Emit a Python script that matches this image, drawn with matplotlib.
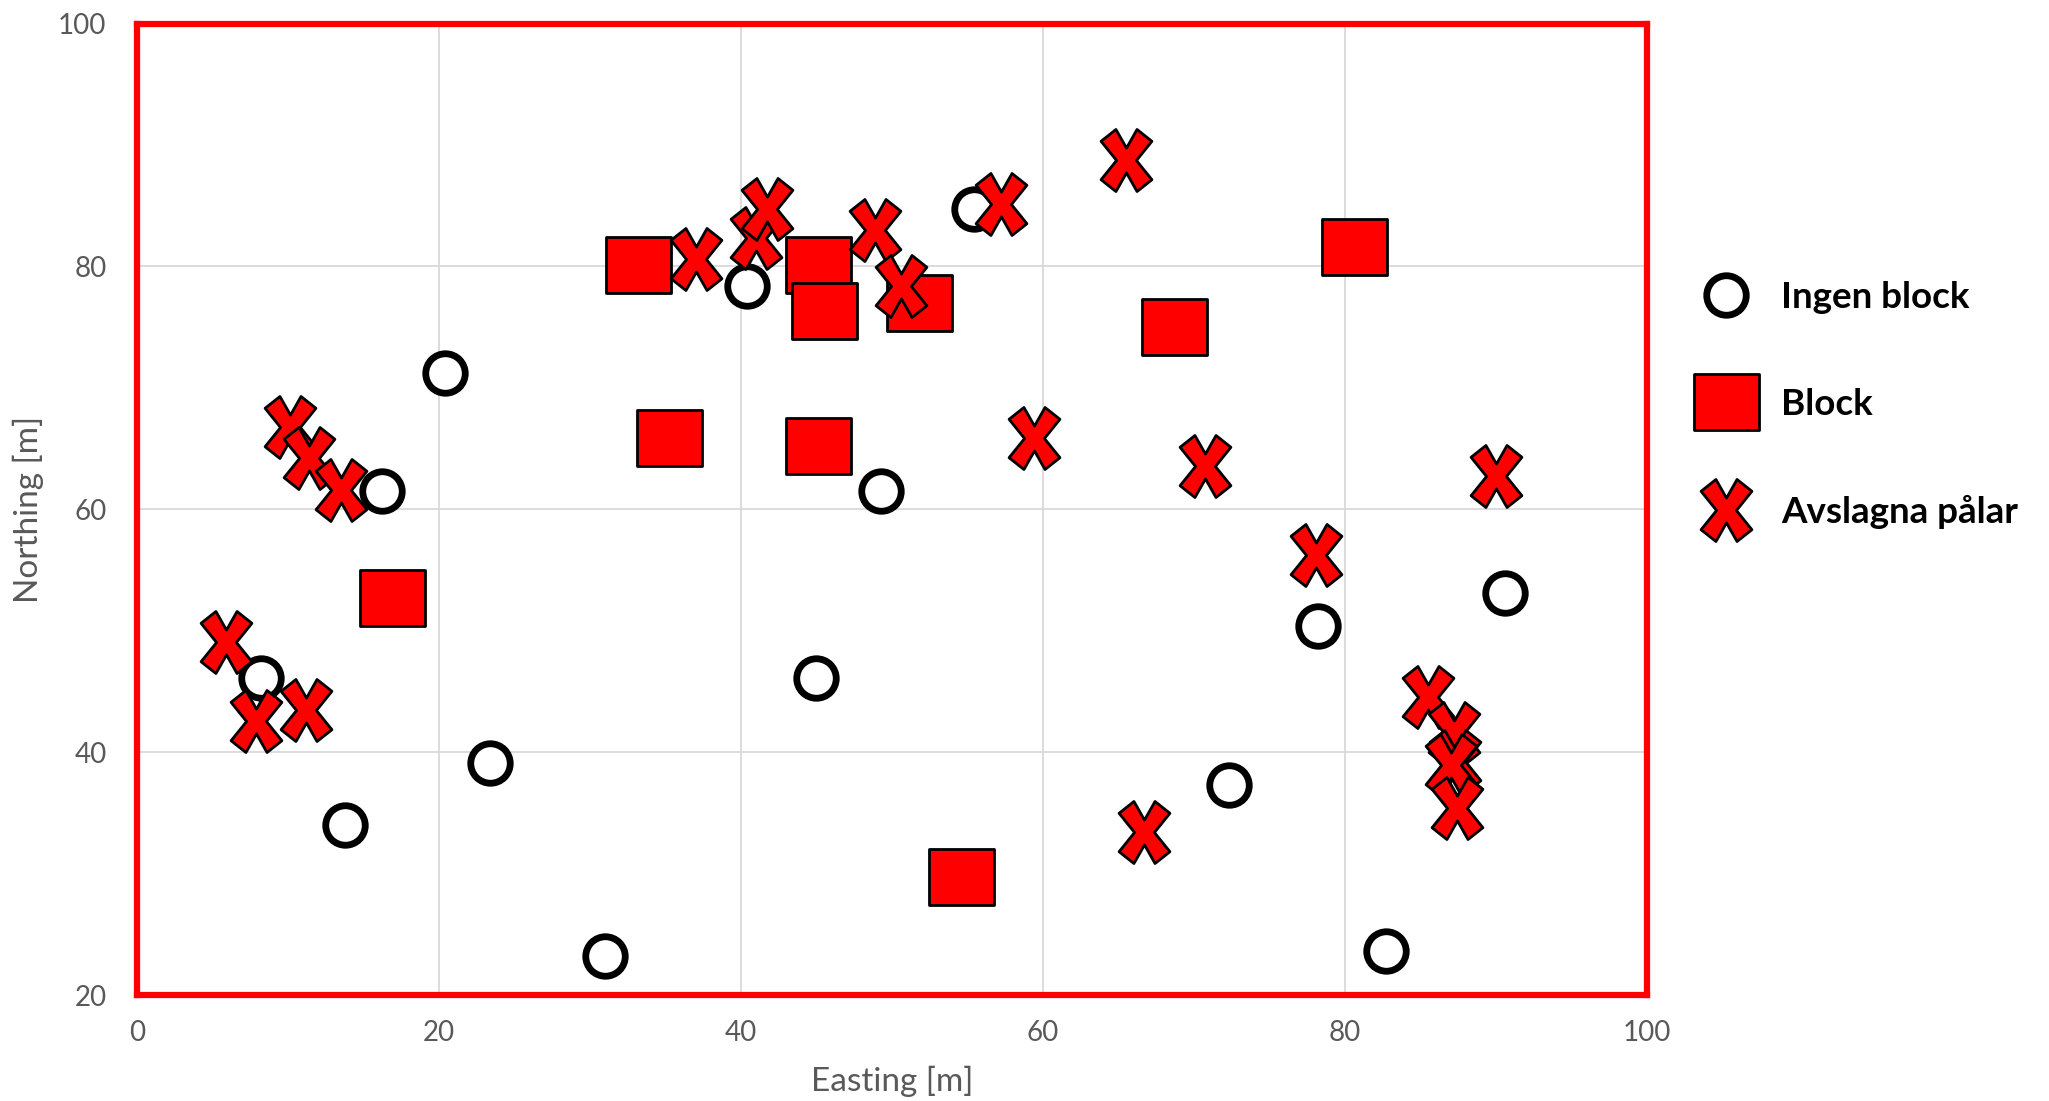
import matplotlib
matplotlib.use("Agg")
import matplotlib.pyplot as plt
from matplotlib.path import Path
from matplotlib.lines import Line2D

plt.rcParams['font.family'] = ['Lato', 'DejaVu Sans']

# ---- data ----
ingen_x = [20.4, 16.2, 8.2, 23.4, 13.8, 31.0, 40.4, 55.4, 49.3, 45.0, 72.3, 78.2, 90.6, 82.7]
ingen_y = [71.2, 61.5, 46.1, 39.1, 34.0, 23.2, 78.4, 84.7, 61.5, 46.1, 37.3, 50.4, 53.1, 23.6]

block_x = [33.2, 35.2, 45.1, 45.5, 45.1, 51.8, 16.9, 54.6, 68.7, 80.6]
block_y = [80.1, 65.9, 80.1, 76.3, 65.2, 77.0, 52.7, 29.7, 75.0, 81.6]

pal_x = [10.1, 11.4, 13.5, 5.9, 7.9, 11.2, 37.0, 41.0, 41.7, 48.9, 50.6, 57.2, 65.5,
         59.4, 70.7, 78.1, 90.0, 85.5, 87.2, 87.3, 87.0, 87.4, 66.7]
pal_y = [66.8, 64.2, 61.6, 49.1, 42.6, 43.5, 80.6, 82.3, 84.7, 83.0, 78.4, 85.1, 88.8,
         65.9, 63.6, 56.2, 62.7, 44.5, 41.6, 39.3, 38.9, 35.4, 33.4]

labels = ["Ingen block", "Block", "Avslagna pålar"]
xticks = [0, 20, 40, 60, 80, 100]
yticks = [20, 40, 60, 80, 100]

# ---- marker shapes ----
a, b = 0.41, 0.5
d, e = 0.24, 0.19
y0, x0 = 0.2, 0.16
x_verts = [(0, y0), (a - d, b), (a, b - e), (x0, 0), (a, -b + e), (a - d, -b),
           (0, -y0), (-a + d, -b), (-a, -b + e), (-x0, 0), (-a, b - e), (-a + d, b), (0, y0)]
x_codes = [Path.MOVETO] + [Path.LINETO] * (len(x_verts) - 2) + [Path.CLOSEPOLY]
x_marker = Path(x_verts, x_codes)

rh = 0.5 * 58 / 67
r_verts = [(-0.5, -rh), (0.5, -rh), (0.5, rh), (-0.5, rh), (-0.5, -rh)]
r_codes = [Path.MOVETO, Path.LINETO, Path.LINETO, Path.LINETO, Path.CLOSEPOLY]
rect_marker = Path(r_verts, r_codes)

px = 0.72  # points per pixel at dpi 100
circ_kw = dict(marker='o', markersize=39.5 * px, markerfacecolor='white',
               markeredgecolor='black', markeredgewidth=6.8 * px, linestyle='none')
rect_kw = dict(marker=rect_marker, markersize=65 * px, markerfacecolor='#FF0000',
               markeredgecolor='black', markeredgewidth=2.8 * px, linestyle='none')
x_kw = dict(marker=x_marker, markersize=62 * px, markerfacecolor='#FF0000',
            markeredgecolor='black', markeredgewidth=2.8 * px, linestyle='none')

fig = plt.figure(figsize=(20.49, 11.01), dpi=100)
ax = fig.add_axes([137 / 2049, 1 - 995 / 1101, (1647 - 137) / 2049, (995 - 23.5) / 1101])

ax.plot(ingen_x, ingen_y, zorder=3, **circ_kw)
ax.plot(block_x, block_y, zorder=4, **rect_kw)
ax.plot(pal_x, pal_y, zorder=5, **x_kw)

ax.set_xlim(0, 100)
ax.set_ylim(20, 100)
ax.set_xticks(xticks)
ax.set_yticks(yticks)
ax.grid(True, color='#D9D9D9', linewidth=1.3)
ax.set_axisbelow(True)
ax.tick_params(length=0, labelsize=20, labelcolor='#595959', pad=22)
ax.tick_params(axis='x', pad=18)
for s in ax.spines.values():
    s.set_color('#FF0000')
    s.set_linewidth(4.5)

ax.set_xlabel("Easting [m]", fontsize=24, color='#595959', labelpad=14)
ax.set_ylabel("Northing [m]", fontsize=24, color='#595959', labelpad=10)

handles = [Line2D([], [], **circ_kw), Line2D([], [], **rect_kw), Line2D([], [], **x_kw)]
fig.legend(handles, labels, loc='center left', bbox_to_anchor=(1689 / 2049, 1 - 405 / 1101),
           frameon=False, numpoints=1, borderpad=0, borderaxespad=0,
           labelspacing=2.0, handlelength=2.0, handletextpad=0.5,
           prop=dict(family=['Lato', 'DejaVu Sans'], weight='bold', size=26.5))

fig.savefig("out.png", dpi=100)
